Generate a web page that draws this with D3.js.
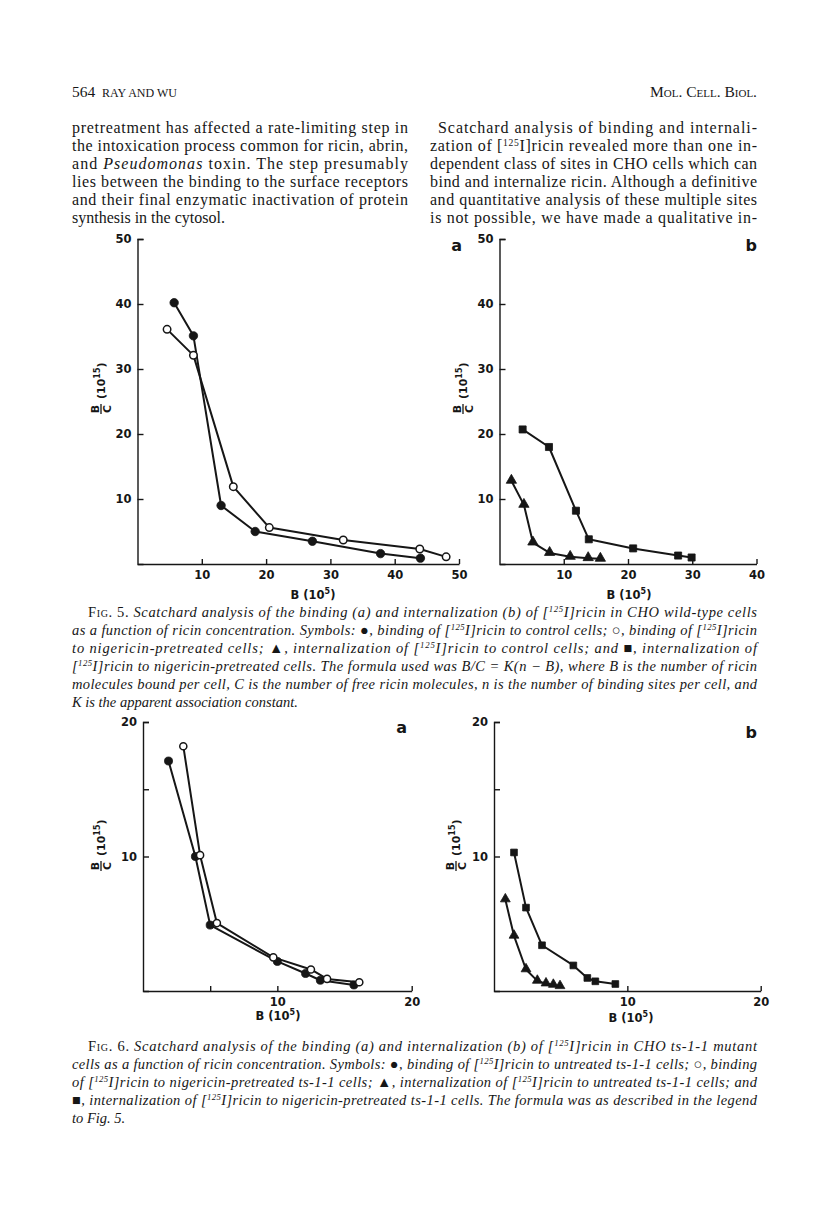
<!DOCTYPE html>
<html>
<head>
<meta charset="utf-8">
<script src="https://cdn.jsdelivr.net/npm/d3@7"></script>
<style>
  body { margin: 0; background: #fff; }
  svg { display: block; }
</style>
</head>
<body>
<div id="page"></div>
<script>
// values (B in 10^5, B/C in 10^15)
var fig5aFilledB  = [5.7, 8.7, 13.0, 18.3, 27.2, 37.8, 44.0];
var fig5aFilledBC = [40.2, 35.1, 9.0, 5.0, 3.5, 1.6, 0.9];
var fig5aOpenB    = [4.6, 8.7, 14.9, 20.5, 32.0, 43.9, 48.0];
var fig5aOpenBC   = [36.1, 32.1, 11.9, 5.6, 3.7, 2.3, 1.1];

var fig5bSquareB  = [3.6, 7.7, 11.9, 13.9, 20.8, 27.8, 29.9];
var fig5bSquareBC = [20.7, 18.0, 8.2, 3.8, 2.4, 1.3, 1.0];
var fig5bTriB     = [1.85, 3.8, 5.2, 7.8, 11.0, 13.8, 15.7];
var fig5bTriBC    = [12.8, 9.1, 3.3, 1.7, 1.1, 0.9, 0.8];

var fig6aFilledB  = [1.9, 3.9, 5.0, 10.0, 12.1, 13.2, 15.7];
var fig6aFilledBC = [17.1, 10.0, 4.9, 2.2, 1.3, 0.8, 0.45];
var fig6aOpenB    = [3.0, 4.25, 5.5, 9.7, 12.5, 13.7, 16.1];
var fig6aOpenBC   = [18.2, 10.1, 5.05, 2.5, 1.6, 0.9, 0.65];

var fig6bSquareB  = [1.5, 2.4, 3.6, 5.95, 7.0, 7.6, 9.1];
var fig6bSquareBC = [10.3, 6.2, 3.4, 1.9, 0.97, 0.72, 0.52];
var fig6bTriB     = [0.85, 1.5, 2.4, 3.25, 3.9, 4.45, 4.95];
var fig6bTriBC    = [6.8, 4.1, 1.6, 0.75, 0.55, 0.45, 0.35];

// axis ticks
var fig5aXTicks = [10, 20, 30, 40, 50];
var fig5bXTicks = [10, 20, 30, 40];
var fig5YTicks  = [10, 20, 30, 40, 50];
var fig6aXTicks = [5, 10, 20];
var fig6bXTicks = [10, 20];
var fig6XLabels = [10, 20];
var fig6YTicks  = [10, 15, 20];
var fig6YLabels = [10, 20];

// page text
var headLeftCol = [
  "pretreatment has affected a rate-limiting step in",
  "the intoxication process common for ricin, abrin,",
  "and *Pseudomonas* toxin. The step presumably",
  "lies between the binding to the surface receptors",
  "and their final enzymatic inactivation of protein",
  "synthesis in the cytosol."
];
var headRightCol = [
  "Scatchard analysis of binding and internali-",
  "zation of [^125I]ricin revealed more than one in-",
  "dependent class of sites in CHO cells which can",
  "bind and internalize ricin. Although a definitive",
  "and quantitative analysis of these multiple sites",
  "is not possible, we have made a qualitative in-"
];
var caption5 = [
  "*#Fig#. 5.* Scatchard analysis of the binding (a) and internalization (b) of [^125I]ricin in CHO wild-type cells",
  "as a function of ricin concentration. Symbols: *●*, binding of [^125I]ricin to control cells; *○*, binding of [^125I]ricin",
  "to nigericin-pretreated cells; *▲*, internalization of [^125I]ricin to control cells; and *■*, internalization of",
  "[^125I]ricin to nigericin-pretreated cells. The formula used was B/C = K(n − B), where B is the number of ricin",
  "molecules bound per cell, C is the number of free ricin molecules, n is the number of binding sites per cell, and",
  "K is the apparent association constant."
];
var caption6 = [
  "*#Fig#. 6.* Scatchard analysis of the binding (a) and internalization (b) of [^125I]ricin in CHO ts-1-1 mutant",
  "cells as a function of ricin concentration. Symbols: *●*, binding of [^125I]ricin to untreated ts-1-1 cells; *○*, binding",
  "of [^125I]ricin to nigericin-pretreated ts-1-1 cells; *▲*, internalization of [^125I]ricin to untreated ts-1-1 cells; and",
  "*■*, internalization of [^125I]ricin to nigericin-pretreated ts-1-1 cells. The formula was as described in the legend",
  "to Fig. 5."
];

var ink = "#161616";
var serif = "'Liberation Serif', 'Times New Roman', serif";
var sans = "'DejaVu Sans', 'Liberation Sans', sans-serif";

var svg = d3.select("#page").append("svg")
  .attr("width", 816)
  .attr("height", 1218);

svg.append("rect").attr("width", 816).attr("height", 1218).attr("fill", "#fff");

// one line of running text; * toggles italic, ^digits superscript, #..# small caps
function textLine(x, y, str, size, italic, width) {
  var t = svg.append("text")
    .attr("x", x).attr("y", y)
    .attr("font-family", serif)
    .attr("font-size", size)
    .attr("fill", ink);
  var it = italic;
  var back = 0;
  str.split(/(\*|\^\d+|#[^#]+#)/).forEach(function(tok) {
    if (!tok) return;
    if (tok === "*") { it = !it; return; }
    if (tok[0] === "^") {
      t.append("tspan").attr("dy", -5).attr("font-size", size * 0.6)
        .attr("font-style", it ? "italic" : "normal").text(tok.slice(1));
      back = 5;
      return;
    }
    var s = t.append("tspan").attr("font-style", it ? "italic" : "normal");
    if (back) { s.attr("dy", back); back = 0; }
    if (tok[0] === "#") s.attr("font-variant", "small-caps").text(tok.slice(1, -1));
    else s.text(tok);
  });
  if (width) t.attr("textLength", width).attr("lengthAdjust", "spacing");
  return t;
}

// running head
textLine(72, 97, "564", 15.5, false);
svg.append("text").attr("x", 102).attr("y", 97)
  .attr("font-family", serif).attr("font-size", 12).attr("fill", ink)
  .text("RAY AND WU");
svg.append("text").attr("x", 757).attr("y", 97)
  .attr("text-anchor", "end")
  .attr("font-family", serif).attr("font-size", 15.5).attr("fill", ink)
  .attr("font-variant", "small-caps")
  .text("Mol. Cell. Biol.");

headLeftCol.forEach(function(l, i) {
  var last = i === headLeftCol.length - 1;
  textLine(72, 133 + i * 18, l, 16, false, last ? null : 336);
});
headRightCol.forEach(function(l, i) {
  var x0 = i === 0 ? 438 : 430;
  textLine(x0, 133 + i * 18, l, 16, false, 757 - x0);
});

caption5.forEach(function(l, i) {
  var x0 = i === 0 ? 88 : 72;
  var last = i === caption5.length - 1;
  textLine(x0, 617 + i * 18, l, 14.5, true, last ? null : 757 - x0);
});
caption6.forEach(function(l, i) {
  var x0 = i === 0 ? 88 : 72;
  var last = i === caption6.length - 1;
  textLine(x0, 1051 + i * 18, l, 14.5, true, last ? null : 757 - x0);
});

// chart panels
var panels = [
  { left: 137.5, right: 459, bottom: 564, top: 239, xMax: 50, yMax: 50,
    xTicks: fig5aXTicks, xLabels: fig5aXTicks, yTicks: fig5YTicks, yLabels: fig5YTicks,
    letter: "a", letterAt: [462, 251], yLab: [101, 388], xLab: [313, 599], mark: 1,
    series: [
      { b: fig5aFilledB, bc: fig5aFilledBC, shape: "dot" },
      { b: fig5aOpenB, bc: fig5aOpenBC, shape: "ring" }
    ] },
  { left: 499.5, right: 756.5, bottom: 564, top: 239, xMax: 40, yMax: 50,
    xTicks: fig5bXTicks, xLabels: fig5bXTicks, yTicks: fig5YTicks, yLabels: fig5YTicks,
    letter: "b", letterAt: [757, 251], yLab: [463, 388], xLab: [629, 599], mark: 1,
    series: [
      { b: fig5bSquareB, bc: fig5bSquareBC, shape: "square" },
      { b: fig5bTriB, bc: fig5bTriBC, shape: "tri" }
    ] },
  { left: 143, right: 411.7, bottom: 991, top: 722, xMax: 20, yMax: 20,
    xTicks: fig6aXTicks, xLabels: fig6XLabels, yTicks: fig6YTicks, yLabels: fig6YLabels,
    letter: "a", letterAt: [407, 733], yLab: [101, 845], xLab: [278, 1020], mark: 0.9,
    series: [
      { b: fig6aFilledB, bc: fig6aFilledBC, shape: "dot" },
      { b: fig6aOpenB, bc: fig6aOpenBC, shape: "ring" }
    ] },
  { left: 494, right: 760.7, bottom: 991, top: 722, xMax: 20, yMax: 20,
    xTicks: fig6bXTicks, xLabels: fig6XLabels, yTicks: fig6YTicks, yLabels: fig6YLabels,
    letter: "b", letterAt: [757, 738], yLab: [456, 845], xLab: [631, 1022], mark: 0.9,
    series: [
      { b: fig6bSquareB, bc: fig6bSquareBC, shape: "square" },
      { b: fig6bTriB, bc: fig6bTriBC, shape: "tri" }
    ] }
];

var shapes = {
  dot: d3.symbolCircle, ring: d3.symbolCircle,
  square: d3.symbolSquare, tri: d3.symbolTriangle
};
var sizes = { dot: 56, ring: 44, square: 50, tri: 46 };

panels.forEach(function(p) {
  var x = d3.scaleLinear().domain([0, p.xMax]).range([p.left, p.right]);
  var y = d3.scaleLinear().domain([0, p.yMax]).range([p.bottom, p.top]);

  var g = svg.append("g");

  var xAxis = d3.axisBottom(x)
    .tickValues(p.xTicks)
    .tickSizeInner(-5).tickSizeOuter(0).tickPadding(7)
    .tickFormat(function(d) { return p.xLabels.indexOf(d) >= 0 ? d : ""; });
  var yAxis = d3.axisLeft(y)
    .tickValues(p.yTicks)
    .tickSizeInner(-6).tickSizeOuter(-6).tickPadding(6)
    .tickFormat(function(d) { return p.yLabels.indexOf(d) >= 0 ? d : ""; });

  var ax = g.append("g").attr("transform", "translate(0," + p.bottom + ")").call(xAxis);
  var ay = g.append("g").attr("transform", "translate(" + p.left + ",0)").call(yAxis);

  [ax, ay].forEach(function(a) {
    a.selectAll("path, line").attr("stroke", ink).attr("stroke-width", 1.4);
    a.selectAll("text").attr("fill", ink)
      .attr("font-family", sans).attr("font-weight", "bold").attr("font-size", 11.5);
  });

  // panel letter
  g.append("text").attr("x", p.letterAt[0]).attr("y", p.letterAt[1])
    .attr("text-anchor", "end")
    .attr("font-family", sans).attr("font-weight", "bold").attr("font-size", 16)
    .attr("fill", ink).text(p.letter);

  // x label B (10^5)
  var xl = g.append("text").attr("x", p.xLab[0]).attr("y", p.xLab[1])
    .attr("text-anchor", "middle")
    .attr("font-family", sans).attr("font-weight", "bold").attr("font-size", 11.5)
    .attr("fill", ink);
  xl.append("tspan").text("B  (10");
  xl.append("tspan").attr("dy", -5).attr("font-size", 8).text("5");
  xl.append("tspan").attr("dy", 5).text(")");

  // y label B/C (10^15), rotated
  var yl = g.append("g")
    .attr("transform", "translate(" + p.yLab[0] + "," + p.yLab[1] + ") rotate(-90)")
    .attr("font-family", sans).attr("font-weight", "bold").attr("font-size", 11)
    .attr("fill", ink);
  yl.append("text").attr("x", -21).attr("y", -2).attr("text-anchor", "middle").text("B");
  yl.append("line").attr("x1", -26).attr("x2", -16).attr("y1", 0).attr("y2", 0)
    .attr("stroke", ink).attr("stroke-width", 1.3);
  yl.append("text").attr("x", -21).attr("y", 10).attr("text-anchor", "middle").text("C");
  var yt = yl.append("text").attr("x", -11).attr("y", 4);
  yt.append("tspan").text("(10");
  yt.append("tspan").attr("dy", -5).attr("font-size", 8).text("15");
  yt.append("tspan").attr("dy", 5).text(")");

  var line = d3.line()
    .x(function(d) { return x(d[0]); })
    .y(function(d) { return y(d[1]); });

  p.series.forEach(function(s) {
    var pts = d3.zip(s.b, s.bc);
    g.append("path").datum(pts)
      .attr("d", line)
      .attr("fill", "none")
      .attr("stroke", ink)
      .attr("stroke-width", 2)
      .attr("stroke-linejoin", "round");
  });

  p.series.forEach(function(s) {
    var pts = d3.zip(s.b, s.bc);
    var sym = d3.symbol().type(shapes[s.shape]).size(sizes[s.shape] * p.mark);
    g.selectAll(null).data(pts).enter().append("path")
      .attr("d", sym)
      .attr("transform", function(d) {
        var dy = s.shape === "tri" ? -0.5 : 0;
        return "translate(" + x(d[0]) + "," + (y(d[1]) + dy) + ")";
      })
      .attr("fill", s.shape === "ring" ? "#fff" : ink)
      .attr("stroke", ink)
      .attr("stroke-width", s.shape === "ring" ? 1.5 : 0.8);
  });
});
</script>
</body>
</html>
